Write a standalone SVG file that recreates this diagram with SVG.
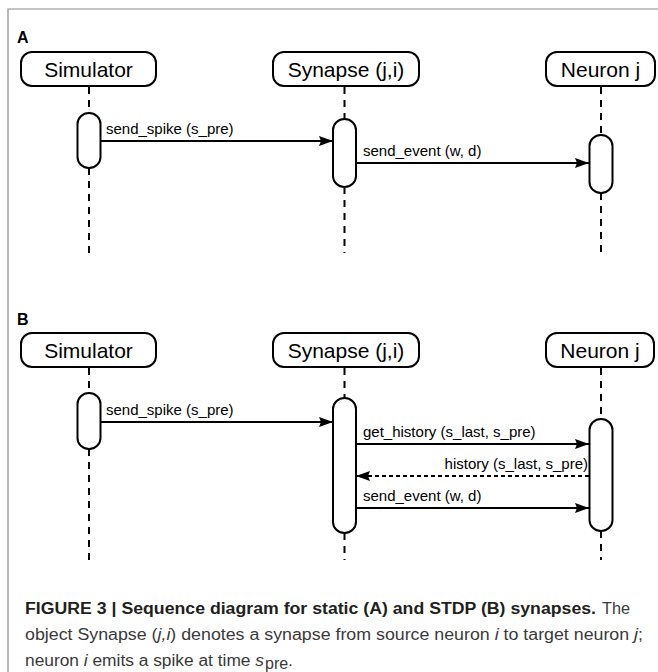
<svg xmlns="http://www.w3.org/2000/svg" width="658" height="672" viewBox="0 0 658 672">
<defs>
<marker id="ah" markerWidth="14" markerHeight="10" refX="14" refY="5" orient="auto" markerUnits="userSpaceOnUse">
<path d="M0,0 L14,5 L0,10 L2,5 z" fill="#000"/>
</marker>
<style>
.box{fill:#fff;stroke:#000;stroke-width:2}
.act{fill:#fff;stroke:#000;stroke-width:2}
.life{stroke:#000;stroke-width:2;stroke-dasharray:7 6;fill:none}
.msg{stroke:#000;stroke-width:2;fill:none;marker-end:url(#ah)}
.ret{stroke:#000;stroke-width:2;fill:none;stroke-dasharray:4 3;marker-end:url(#ah)}
.nt{font-family:"Liberation Sans",Arial,sans-serif;font-size:21px;fill:#000;text-anchor:middle}
.ml{font-family:"Liberation Sans",Arial,sans-serif;font-size:15px;fill:#000}
.pl{font-family:"Liberation Sans",Arial,sans-serif;font-size:16px;font-weight:bold;fill:#000}
.cb{font-family:"Liberation Sans",Arial,sans-serif;font-size:16px;font-weight:bold;fill:#231f20}
.cr{font-family:"Liberation Sans",Arial,sans-serif;font-size:16px;fill:#3a3a3a}
</style>
</defs>
<rect width="658" height="672" fill="#fff"/>
<path d="M8,672 V9 H658" fill="none" stroke="#8a8a8a" stroke-width="1.2"/>

<text class="pl" x="17" y="43">A</text>
<text class="pl" x="17" y="325">B</text>

<g id="connectors">
<line class="life" x1="89" y1="87" x2="89" y2="113"/>
<line class="life" x1="89" y1="168" x2="89" y2="253"/>
<line class="life" x1="344.5" y1="87" x2="344.5" y2="119"/>
<line class="life" x1="344.5" y1="187" x2="344.5" y2="253"/>
<line class="life" x1="601" y1="87" x2="601" y2="135"/>
<line class="life" x1="601" y1="193" x2="601" y2="253"/>
<line class="life" x1="89" y1="368" x2="89" y2="393"/>
<line class="life" x1="89" y1="449" x2="89" y2="560"/>
<line class="life" x1="344.5" y1="368" x2="344.5" y2="398"/>
<line class="life" x1="344.5" y1="533" x2="344.5" y2="560"/>
<line class="life" x1="601" y1="368" x2="601" y2="419"/>
<line class="life" x1="601" y1="531" x2="601" y2="560"/>
<line class="msg" x1="100.5" y1="141" x2="333" y2="141"/>
<line class="msg" x1="356" y1="163" x2="589" y2="163"/>
<line class="msg" x1="100.5" y1="422" x2="333" y2="422"/>
<line class="msg" x1="356" y1="444" x2="589" y2="444"/>
<line class="ret" x1="589" y1="476" x2="356" y2="476"/>
<line class="msg" x1="356" y1="508" x2="589" y2="508"/>
<text class="ml" x="106" y="134">send_spike (s_pre)</text>
<text class="ml" x="363" y="156">send_event (w, d)</text>
<text class="ml" x="106" y="415">send_spike (s_pre)</text>
<text class="ml" x="363" y="437">get_history (s_last, s_pre)</text>
<text class="ml" x="588" y="469" text-anchor="end">history (s_last, s_pre)</text>
<text class="ml" x="363" y="501">send_event (w, d)</text>
</g>

<g id="A-simulator">
<rect class="box" x="21" y="52" width="135" height="34" rx="11"/>
<text class="nt" x="88.5" y="77">Simulator</text>
</g>
<g id="A-synapse">
<rect class="box" x="273" y="52" width="146" height="34" rx="11"/>
<text class="nt" x="346" y="77">Synapse (j,i)</text>
</g>
<g id="A-neuron">
<rect class="box" x="546" y="52" width="109" height="34" rx="11"/>
<text class="nt" x="600.5" y="77">Neuron j</text>
</g>
<g id="A-act-simulator"><rect class="act" x="77.5" y="113" width="23" height="55" rx="11.5" ry="11"/></g>
<g id="A-act-synapse"><rect class="act" x="333" y="119" width="23" height="68" rx="11.5" ry="11"/></g>
<g id="A-act-neuron"><rect class="act" x="589.5" y="135" width="23" height="58" rx="11.5" ry="11"/></g>

<g id="B-simulator">
<rect class="box" x="21" y="333" width="135" height="34" rx="11"/>
<text class="nt" x="88.5" y="358">Simulator</text>
</g>
<g id="B-synapse">
<rect class="box" x="273" y="333" width="146" height="34" rx="11"/>
<text class="nt" x="346" y="358">Synapse (j,i)</text>
</g>
<g id="B-neuron">
<rect class="box" x="546" y="333" width="108" height="34" rx="11"/>
<text class="nt" x="600" y="358">Neuron j</text>
</g>
<g id="B-act-simulator"><rect class="act" x="77.5" y="393" width="23" height="56" rx="11.5" ry="11"/></g>
<g id="B-act-synapse"><rect class="act" x="333" y="398" width="23" height="135" rx="11.5" ry="11"/></g>
<g id="B-act-neuron"><rect class="act" x="589.5" y="419" width="23" height="112" rx="11.5" ry="11"/></g>

<g id="caption">
<text class="cb" x="25" y="614" textLength="571" lengthAdjust="spacingAndGlyphs">FIGURE 3 | Sequence diagram for static (A) and STDP (B) synapses.</text>
<text class="cr" x="602" y="614" textLength="28" lengthAdjust="spacingAndGlyphs">The</text>
<text class="cr" x="25" y="640" textLength="618" lengthAdjust="spacingAndGlyphs">object Synapse (<tspan font-style="italic">j,i</tspan>) denotes a synapse from source neuron <tspan font-style="italic">i</tspan> to target neuron <tspan font-style="italic">j</tspan>;</text>
<text class="cr" x="25" y="666" textLength="239" lengthAdjust="spacingAndGlyphs">neuron <tspan font-style="italic">i</tspan> emits a spike at time <tspan font-style="italic">s</tspan></text>
<text class="cr" x="265" y="669" font-size="9">pre<tspan font-size="16" dy="-3">.</tspan></text>
</g>
</svg>
